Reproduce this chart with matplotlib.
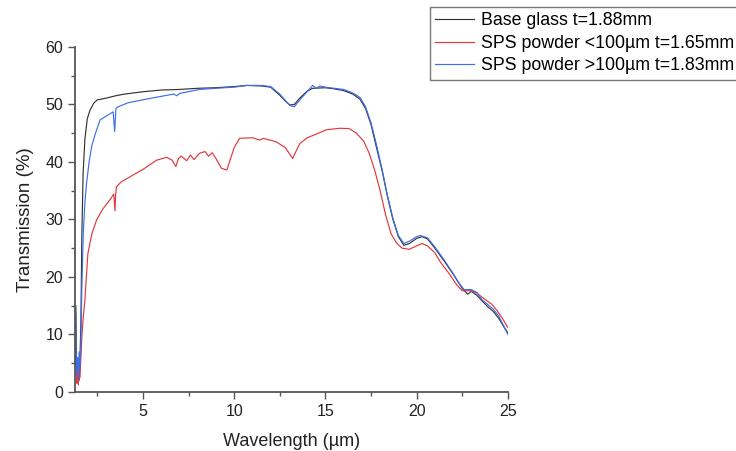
import numpy as np
import matplotlib
matplotlib.use("Agg")
import matplotlib.pyplot as plt
from matplotlib.ticker import MultipleLocator

plt.rcParams['font.family'] = ['Liberation Sans', 'DejaVu Sans']

# Base glass t=1.88mm
wl_base = [1.28, 1.32, 1.36, 1.40, 1.45, 1.50, 1.55, 1.60, 1.65, 1.72, 1.82, 1.95, 2.1, 2.3, 2.5,
           2.7, 3.0, 3.5, 4.0, 5.0, 6.0, 7.0, 8.0, 9.0, 10.0, 10.7, 11.5, 12.0, 12.5, 12.8,
           13.05, 13.3, 13.6, 14.0, 14.3, 15.0, 15.5, 16.0, 16.5, 16.9, 17.2, 17.5, 17.8, 18.1,
           18.4, 18.7, 19.0, 19.3, 19.6, 20.0, 20.3, 20.6, 21.0, 21.5, 22.0, 22.5, 22.8, 23.0,
           23.3, 23.6, 23.9, 24.2, 24.5, 24.8, 25.0]
tr_base = [8, 15, 5, 3, 4, 2, 6, 12, 27, 38, 44, 47.5, 49, 50.2, 50.8,
           50.9, 51.1, 51.5, 51.8, 52.2, 52.5, 52.6, 52.8, 52.9, 53.1, 53.3, 53.2, 53.0, 51.6, 50.6,
           49.9, 50.0, 51.1, 52.3, 52.8, 52.9, 52.7, 52.4, 51.8, 50.9, 49.3, 46.5, 42.5, 38.6,
           34, 30, 27, 25.5, 25.8, 26.7, 27.0, 26.6, 25, 22.8, 20.5, 18.0, 17.0, 17.5,
           16.8, 15.8, 14.8, 14.0, 12.8, 11.2, 10.3]

# SPS powder <100um t=1.65mm
wl_fine = [1.30, 1.34, 1.38, 1.42, 1.46, 1.50, 1.55, 1.60, 1.66, 1.73, 1.82, 1.98, 2.2, 2.46, 2.8,
           3.19, 3.40, 3.47, 3.50, 3.55, 3.8, 4.29, 5.0, 5.75, 6.3, 6.6, 6.8, 6.95, 7.1, 7.4,
           7.6, 7.8, 8.1, 8.4, 8.6, 8.8, 9.0, 9.3, 9.6, 10.0, 10.3, 11.0, 11.4, 11.6, 12.3,
           12.8, 13.2, 13.6, 14.0, 14.4, 15.06, 15.8, 16.3, 16.7, 17.1, 17.4, 17.7, 18.0, 18.3,
           18.6, 18.9, 19.2, 19.6, 20.0, 20.3, 20.6, 21.0, 21.3, 21.8, 22.2, 22.5, 23.0, 23.3,
           23.7, 24.1, 24.4, 24.7, 25.0]
tr_fine = [8, 4, 1.5, 3, 1.2, 4, 2.5, 6, 10, 13, 16, 24, 27.5, 29.9, 31.8,
           33.4, 34.4, 31.5, 34.2, 35.7, 36.5, 37.4, 38.7, 40.3, 40.8, 40.3, 39.2, 40.6, 41.0, 40.2,
           41.2, 40.4, 41.5, 41.8, 41.0, 41.6, 40.6, 38.9, 38.6, 42.5, 44.1, 44.2, 43.8, 44.1, 43.5,
           42.5, 40.6, 43.2, 44.2, 44.7, 45.6, 45.85, 45.8, 45.0, 43.6, 41.5, 38.6, 35, 30.8,
           27.5, 25.9, 25.0, 24.8, 25.4, 25.8, 25.4, 24.2, 22.6, 20.5, 18.6, 17.6, 17.6, 17.2,
           16.2, 15.3, 14.2, 12.8, 11.2]

# SPS powder >100um t=1.83mm
wl_coarse = [1.28, 1.31, 1.34, 1.38, 1.42, 1.46, 1.50, 1.55, 1.60, 1.65, 1.73, 1.82, 1.91, 2.05, 2.19,
             2.4, 2.65, 3.0, 3.37, 3.45, 3.48, 3.52, 3.65, 4.2, 5.0, 6.0, 6.7, 6.85, 7.0, 8.1,
             9.0, 10.0, 10.7, 11.5, 12.0, 12.5, 12.8, 13.05, 13.3, 13.6, 14.0, 14.3, 14.5, 14.7,
             15.0, 15.5, 16.0, 16.5, 16.9, 17.2, 17.5, 17.8, 18.1, 18.4, 18.7, 19.0, 19.3, 19.6,
             20.0, 20.2, 20.6, 21.0, 21.5, 22.0, 22.3, 22.6, 23.0, 23.3, 23.6, 23.9, 24.2, 24.5,
             24.8, 25.0]
tr_coarse = [5, 14, 7, 3, 6, 2, 7, 4, 9, 18, 27.6, 33, 36.3, 40, 42.7,
             45, 47.3, 48, 48.7, 45.3, 47, 49.3, 49.6, 50.3, 50.8, 51.4, 51.8, 51.5, 51.9, 52.6,
             52.8, 53.0, 53.3, 53.3, 53.1, 51.8, 50.7, 49.8, 49.6, 50.8, 52.2, 53.3, 52.8, 53.2,
             53.0, 52.8, 52.6, 52.0, 51.2, 49.6, 46.8, 43, 38.8, 34.2, 30.2, 27.2, 25.8, 26.2,
             27.0, 27.2, 26.8, 25.2, 23, 20.6, 19.0, 17.8, 17.8, 17.3, 16.0, 15.2, 14.4, 13.2,
             11.3, 10.0]

labels = ['Base glass t=1.88mm', 'SPS powder <100\u00b5m t=1.65mm', 'SPS powder >100\u00b5m t=1.83mm']
colors = ['#333333', '#e0383c', '#3b6fe8']

fig = plt.figure(figsize=(7.36, 4.51), dpi=100)
ax = fig.add_axes([0.102, 0.131, 0.588, 0.765])

lines = []
for wl, tr, lab, col in zip([wl_base, wl_fine, wl_coarse], [tr_base, tr_fine, tr_coarse], labels, colors):
    ln, = ax.plot(wl, tr, color=col, lw=0.85, label=lab)
    lines.append(ln)

ax.set_xlim(1.28, 25)
ax.set_ylim(0, 60)
ax.xaxis.set_major_locator(MultipleLocator(5))
ax.xaxis.set_minor_locator(MultipleLocator(2.5))
ax.yaxis.set_major_locator(MultipleLocator(10))
ax.yaxis.set_minor_locator(MultipleLocator(5))

for side in ['top', 'right']:
    ax.spines[side].set_visible(False)
for side in ['left', 'bottom']:
    ax.spines[side].set_color('#555555')
    ax.spines[side].set_linewidth(1.3)

ax.tick_params(which='major', direction='out', length=5, width=1, colors='#555555', labelsize=11.5, labelcolor='#222222')
ax.tick_params(which='minor', direction='out', length=3, width=1, colors='#555555')

ax.set_xlabel('Wavelength (\u00b5m)', fontsize=13, color='#222222', labelpad=10)
ax.set_ylabel('Transmission (%)', fontsize=13.5, color='#222222', labelpad=8)

leg = fig.legend(handles=lines, loc='upper left', bbox_to_anchor=(0.584, 0.985),
                 fontsize=12.8, frameon=True, fancybox=False, edgecolor='#555555',
                 handlelength=2.2, handletextpad=0.4, borderpad=0.3, labelspacing=0.32,
                 borderaxespad=0)
leg.get_frame().set_linewidth(1.0)

fig.savefig('out.png', dpi=100)
